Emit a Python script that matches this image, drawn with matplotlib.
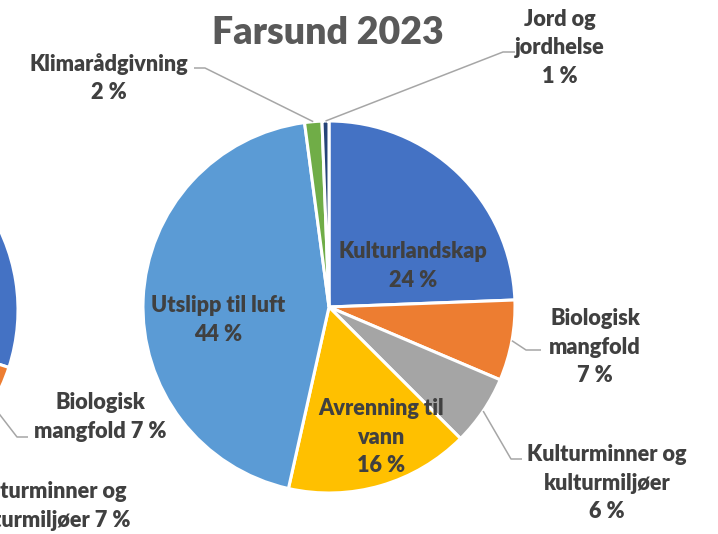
#!/usr/bin/python3

# all imports are here
import numpy as np
import matplotlib
matplotlib.use("Agg")
import matplotlib.pyplot as plt

# slice data, same order for both pies (clockwise from 12 o'clock)
categories = ["Kulturlandskap", "Biologisk mangfold", "Kulturminner og kulturmiljøer",
              "Avrenning til vann", "Utslipp til luft", "Klimarådgivning", "Jord og jordhelse"]
farsund_values = [24.4, 7.0, 6.1, 16.0, 44.4, 1.5, 0.6]
# the pie on the left is cut off by the picture, only its right edge shows
left_values = [30.0, 7.0, 7.0, 14.0, 39.0, 2.0, 1.0]
colors = ["#4472C4", "#ED7D31", "#A5A5A5", "#FFC000", "#5B9BD5", "#70AD47", "#264478"]
title = "Farsund 2023"

# label text as it is broken in the chart
farsund_labels = ["Kulturlandskap", "Biologisk\nmangfold", "Kulturminner og\nkulturmiljøer",
                  "Avrenning til\nvann", "Utslipp til luft", "Klimarådgivning", "Jord og\njordhelse"]
left_labels = [None, "Biologisk\nmangfold", "Kulturminner og\nkulturmiljøer", None, None, None, None]

# figure is drawn in pixel space, y counted from the top like the screenshot
W, H = 718, 534
def py(y):
  return H - y

fig = plt.figure(figsize=(W / 100, H / 100), dpi=100)
ax = fig.add_axes([0, 0, 1, 1])

FONT = ["Lato", "DejaVu Sans"]
TXT = "#404040"
LINE = "#A6A6A6"

def pct(v):
  return "{:.0f} %".format(round(v))

def draw_pie(values, cx, cy, r):
  wedges, _ = ax.pie(values, colors=colors, startangle=90, counterclock=False,
                     center=(cx, py(cy)), radius=r,
                     wedgeprops=dict(edgecolor="white", linewidth=2.2))
  return wedges

def anchor(w, cx, cy, r):
  mid = np.deg2rad((w.theta1 + w.theta2) / 2)
  return cx + r * np.cos(mid), py(cy) + r * np.sin(mid)

def label(x, y, s, ha="center"):
  ax.text(x, py(y), s, ha=ha, va="center", fontsize=15.6, fontweight="heavy",
          color=TXT, family=FONT, linespacing=1.42)

def leader(w, cx, cy, r, elbow, end):
  x0, y0 = anchor(w, cx, cy, r)
  ax.plot([x0, elbow[0], end[0]], [y0, py(elbow[1]), py(end[1])],
          color=LINE, lw=1.1, solid_capstyle="butt")

# main pie
CX, CY, R = 329, 307, 186
wedges = draw_pie(farsund_values, CX, CY, R)

# left pie, center is outside the picture
LX, LY = -168, 310
left_wedges = draw_pie(left_values, LX, LY, R)

ax.set_xlim(0, W)
ax.set_ylim(0, H)
ax.set_aspect("equal")
ax.axis("off")

# where each label sits: (x, y) of text center, and leader elbow/end if outside
layout = {
  0: dict(pos=(413, 266)),
  1: dict(pos=(595, 347), elbow=(526, 350), end=(541, 350)),
  2: dict(pos=(607, 483), elbow=(511, 459), end=(522, 459)),
  3: dict(pos=(381, 437)),
  4: dict(pos=(218, 320)),
  5: dict(pos=(109, 78), elbow=(205, 68), end=(194, 68)),
  6: dict(pos=(560, 48), elbow=(503, 52), end=(515, 52)),
}
for i, lab in enumerate(farsund_labels):
  lo = layout[i]
  label(lo["pos"][0], lo["pos"][1], lab + "\n" + pct(farsund_values[i]))
  if "elbow" in lo:
    leader(wedges[i], CX, CY, R, lo["elbow"], lo["end"])

# labels of the cut off pie, percent on the last line
left_layout = {
  1: dict(pos=(100, 417), elbow=(17, 437), end=(28, 437)),
  2: dict(pos=(47, 506)),
}
for i, lo in left_layout.items():
  label(lo["pos"][0], lo["pos"][1], left_labels[i] + " " + pct(left_values[i]))
  if "elbow" in lo:
    leader(left_wedges[i], LX, LY, R, lo["elbow"], lo["end"])

ax.text(328, py(33), title, ha="center", va="center", fontsize=27,
        fontweight="heavy", color="#595959", family=FONT)

fig.savefig("out.png", dpi=100)
